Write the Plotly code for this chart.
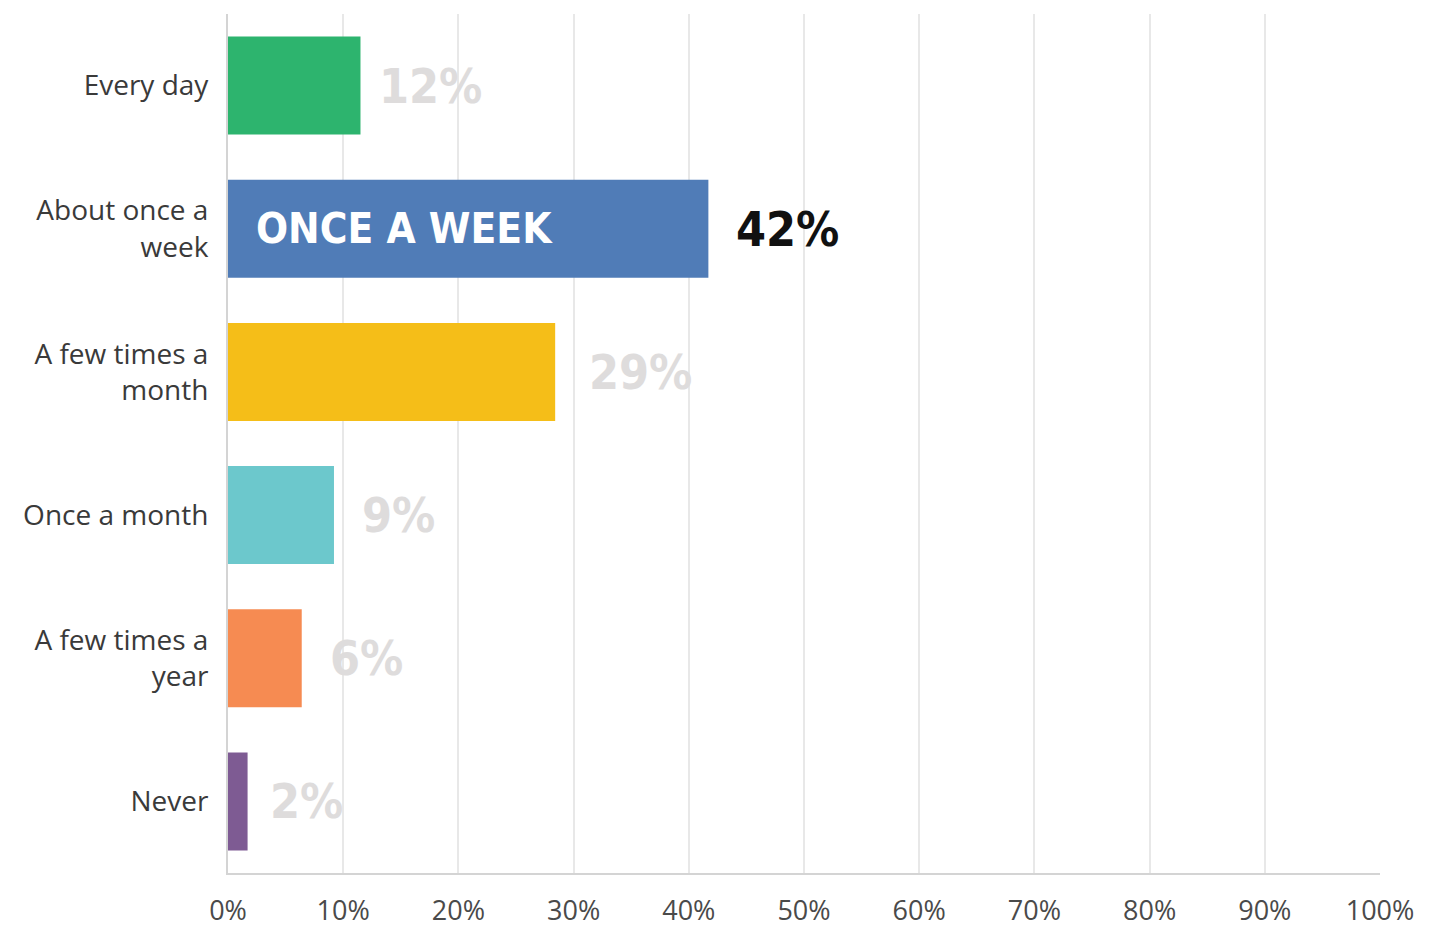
import plotly.graph_objects as go

categories = ["Every day", "About once a<br>week", "A few times a<br>month", "Once a month",
              "A few times a<br>year", "Never"]
values = [11.5, 41.7, 28.4, 9.2, 6.4, 1.7]
value_labels = ["12%", "42%", "29%", "9%", "6%", "2%"]
bar_colors = ["#2db46e", "#507cb7", "#f5be18", "#6cc8cc", "#f68b52", "#7e5b93"]
label_colors = ["#dedcdc", "#111111", "#dedcdc", "#dedcdc", "#dedcdc", "#dedcdc"]
label_shift = [17, 26, 32, 26, 26, 20]
highlight_text = "ONCE A WEEK"
highlight_index = 1
x_ticks = [0, 10, 20, 30, 40, 50, 60, 70, 80, 90, 100]

cond_font = "'Liberation Sans Narrow', 'DejaVu Sans Condensed', 'Arial Narrow', sans-serif"
base_font = "Open Sans"

fig = go.Figure()
fig.add_trace(go.Bar(
    y=categories, x=values, orientation="h",
    marker=dict(color=bar_colors, line=dict(width=0)),
    hoverinfo="skip",
))

for cat, v, lab, col, sh in zip(categories, values, value_labels, label_colors, label_shift):
    fig.add_annotation(
        x=v, y=cat, text=lab, showarrow=False, xanchor="left", xshift=sh,
        font=dict(family=cond_font, size=48, color=col, weight="bold"),
    )

fig.add_annotation(
    x=0, y=categories[highlight_index], text=highlight_text, showarrow=False,
    xanchor="left", xshift=26,
    font=dict(family=cond_font, size=42, color="#ffffff", weight="bold"),
)

fig.update_layout(
    width=1434, height=927,
    margin=dict(l=228, r=54, t=14, b=54),
    paper_bgcolor="white", plot_bgcolor="white",
    bargap=0.315,
    showlegend=False,
    font=dict(family=base_font),
)
fig.update_xaxes(
    range=[0, 100], tickvals=x_ticks, ticktext=[f"{t}%" for t in x_ticks],
    showgrid=True, gridcolor="#e8e8e8", gridwidth=2,
    showline=True, linecolor="#d4d4d4", linewidth=2,
    zeroline=False,
    tickfont=dict(family=base_font, size=27, color="#4a4a4a"),
    ticklabelstandoff=13, automargin=False, fixedrange=True,
)
fig.update_yaxes(
    categoryorder="array", categoryarray=categories, autorange="reversed",
    showgrid=False, showline=True, linecolor="#d4d4d4", linewidth=2,
    tickfont=dict(family=base_font, size=28, color="#3a3a3a"),
    ticklabelstandoff=12, automargin=False, fixedrange=True,
)

fig.write_html(
    "out.html",
    config={"displayModeBar": False},
    post_script="document.body.style.margin='0';document.body.style.overflow='hidden';",
)
